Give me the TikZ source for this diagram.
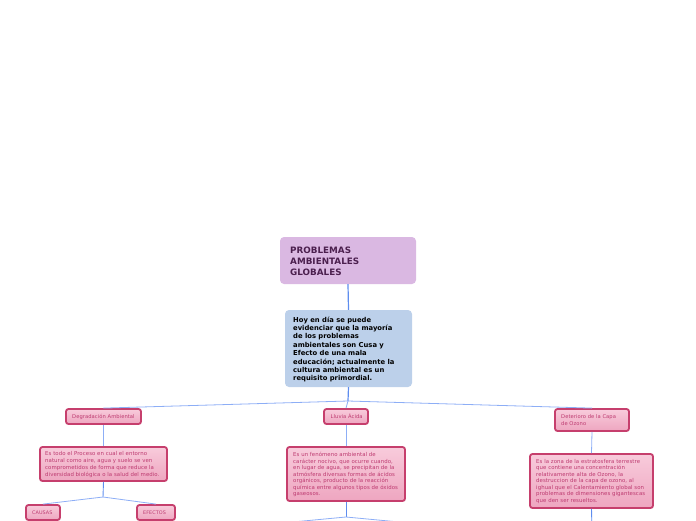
\documentclass[tikz,border=0pt]{standalone}
\usepackage{fontspec}
\setmainfont{DejaVu Sans}
\newfontfamily\widefont[LetterSpace=1.2]{DejaVu Sans}
\definecolor{titlefill}{HTML}{DAB8E2}
\definecolor{titletext}{HTML}{4B1F4E}
\definecolor{bluefill}{HTML}{BCD0EA}
\definecolor{pinkborder}{HTML}{C63F6D}
\definecolor{pinktop}{HTML}{F8CBDB}
\definecolor{pinkbot}{HTML}{EEA6C0}
\definecolor{pinktext}{HTML}{BD3A70}
\definecolor{linkblue}{HTML}{5E8DEF}
\definecolor{linklight}{HTML}{8DAEF6}
\begin{document}
\begin{tikzpicture}[x=1pt,y=-1pt,
  mainbox/.style={draw=none,rounded corners=4pt,inner sep=0pt},
  pinkbox/.style={draw=pinkborder,line width=1.8pt,rounded corners=2.5pt,top color=pinktop,bottom color=pinkbot,inner sep=0pt},
  txt/.style={anchor=west,inner sep=0pt,align=left},
  pinktxt/.style={txt,text=pinktext,font=\widefont\fontsize{5.2}{6.6}\selectfont},
  trunk/.style={draw=linkblue,line width=1.2pt},
  branch/.style={draw=linklight,line width=0.8pt}]
\useasboundingbox (0,0) rectangle (696,520);
\clip (0,0) rectangle (696,520);
\coordinate (j1) at (348,401);
\coordinate (j2) at (103,497);
\coordinate (j3) at (346,517);
\coordinate (l1) at (250,526);
\coordinate (l2) at (442,526);
\coordinate (o1) at (592,530);
% title
\node[mainbox,fill=titlefill,minimum width=136pt,minimum height=47pt] (title) at (348,260.5) {};
\node[txt,text=titletext,font=\bfseries\fontsize{8.8}{11}\selectfont] (titletxt) at (290,261) {PROBLEMAS\\AMBIENTALES\\GLOBALES};
% intro
\node[mainbox,fill=bluefill,minimum width=127pt,minimum height=77pt] (intro) at (348.5,348.5) {};
\node[txt,text=black,font=\bfseries\fontsize{6.8}{8.4}\selectfont] (introtxt) at (293,349.5) {Hoy en día se puede\\evidenciar que la mayoría\\de los problemas\\ambientales son Cusa y\\Efecto de una mala\\educación; actualmente la\\cultura ambiental es un\\requisito primordial.};
% level 1
\node[pinkbox,minimum width=75pt,minimum height=15pt] (degr) at (103.5,416.5) {};
\node[pinktxt] (degrtxt) at (72,416.5) {Degradación Ambiental};
\node[pinkbox,minimum width=44pt,minimum height=15pt] (lluvia) at (346,416.5) {};
\node[pinktxt] (lluviatxt) at (330.5,416.5) {Lluvia Ácida};
\node[pinkbox,minimum width=74pt,minimum height=22pt] (det) at (592,420) {};
\node[pinktxt] (dettxt) at (561,420) {Deterioro de la Capa\\de Ozono};
% level 2
\node[pinkbox,minimum width=127pt,minimum height=34pt] (d1) at (103.5,464) {};
\node[pinktxt,font=\widefont\fontsize{5.4}{7}\selectfont] (d1txt) at (45,465) {Es todo el Proceso en cual el entorno\\natural como aire, agua y suelo se ven\\comprometidos de forma que reduce la\\diversidad biológica o la salud del medio.};
\node[pinkbox,minimum width=118pt,minimum height=54pt] (d2) at (346,474) {};
\node[pinktxt,font=\widefont\fontsize{5.4}{6.5}\selectfont] (d2txt) at (293,474.5) {Es un fenómeno ambiental de\\carácter nocivo, que ocurre cuando,\\en lugar de agua, se precipitan de la\\atmósfera diversas formas de ácidos\\orgánicos, producto de la reacción\\química entre algunos tipos de óxidos\\gaseosos.};
\node[pinkbox,minimum width=123pt,minimum height=54pt] (d3) at (591.5,481) {};
\node[pinktxt,font=\widefont\fontsize{5.4}{6.5}\selectfont] (d3txt) at (536,481.5) {Es la zona de la estratosfera terrestre\\que contiene una concentración\\relativamente alta de Ozono, la\\destruccion de la capa de ozono, al\\ighual que el Calentamiento global son\\problemas de dimensiones gigantescas\\que den ser resueltos.};
% level 3
\node[pinkbox,minimum width=34pt,minimum height=15pt] (causas) at (43,512.5) {};
\node[pinktxt,font=\widefont\fontsize{4.9}{6}\selectfont] (causastxt) at (32,512.5) {CAUSAS};
\node[pinkbox,minimum width=38pt,minimum height=15pt] (efectos) at (156,512.5) {};
\node[pinktxt,font=\widefont\fontsize{4.9}{6}\selectfont] (efectostxt) at (143,512.5) {EFECTOS};
% connectors
\draw[trunk] (title.south) -- (intro.north);
\draw[trunk] (intro.south) -- (j1);
\draw[branch] (j1) -- (degr.north);
\draw[branch] (j1) -- (lluvia.north);
\draw[branch] (j1) -- (det.north);
\draw[branch] (degr.south) -- (d1.north);
\draw[branch] (lluvia.south) -- (d2.north);
\draw[branch] (det.south) -- (d3.north);
\draw[trunk,line width=0.9pt] (d1.south) -- (j2);
\draw[branch] (j2) -- (causas.north);
\draw[branch] (j2) -- (efectos.north);
\draw[trunk,line width=0.9pt] (d2.south) -- (j3);
\draw[branch] (j3) -- (l1);
\draw[branch] (j3) -- (l2);
\draw[trunk,line width=0.9pt] (d3.south) -- (o1);
\end{tikzpicture}
\end{document}
